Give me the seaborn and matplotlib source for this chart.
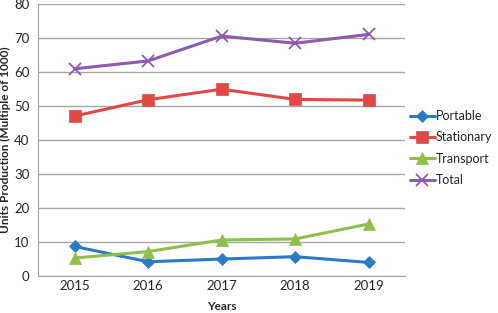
import pandas as pd
import numpy as np
import seaborn as sns
import matplotlib.pyplot as plt

years = ["2015", "2016", "2017", "2018", "2019"]
portable = [8.7, 4.2, 5.0, 5.7, 4.0]
stationary = [47.0, 51.8, 54.9, 51.9, 51.7]
transport = [5.3, 7.2, 10.6, 10.9, 15.3]
total = [60.9, 63.2, 70.5, 68.4, 71.0]
series = ["Portable", "Stationary", "Transport", "Total"]

df = pd.DataFrame({"Year": years * 4,
                   "Value": portable + stationary + transport + total,
                   "Series": [s for s in series for _ in years]})

colors = ["#2A7BC4", "#E04A44", "#8EC04B", "#8B5CAF"]
markers = {"Portable": "D", "Stationary": "s", "Transport": "^", "Total": "x"}
sizes = {"Portable": 6, "Stationary": 8, "Transport": 8, "Total": 8}

sns.set_style("white")
plt.rcParams["font.family"] = ["Lato", "DejaVu Sans"]

fig = plt.figure(figsize=(4.98, 3.13), dpi=100)
ax = fig.add_axes([0.076, 0.118, 0.738, 0.870])

for s, c in zip(series, colors):
    sub = df[df["Series"] == s]
    sns.lineplot(data=sub, x="Year", y="Value", ax=ax, color=c, linewidth=2.2,
                 marker=markers[s], markersize=sizes[s], markeredgecolor=c,
                 markeredgewidth=1.3 if s == "Total" else 0.5, label=s, sort=False)

ax.set_xlim(-0.5, 4.5)
ax.set_ylim(0, 80)
ax.set_yticks(range(0, 81, 10))
ax.grid(axis="y", color="#A6A6A6", linewidth=1)
ax.set_axisbelow(True)
for sp in ["top", "right"]:
    ax.spines[sp].set_visible(False)
ax.spines["left"].set_color("#A6A6A6")
ax.spines["bottom"].set_color("#A6A6A6")
ax.set_xticks(range(5))
ax.set_xticklabels(years)
ax.set_xticks(np.arange(-0.5, 4.6, 1), minor=True)
ax.tick_params(axis="x", which="major", length=0, labelsize=9.5, pad=3)
ax.tick_params(axis="x", which="minor", length=5, color="#A6A6A6", direction="out")
ax.tick_params(axis="y", length=0, labelsize=9.5, pad=6)
ax.set_xlabel("Years", fontsize=8.5, fontweight="bold", labelpad=6)
ax.set_ylabel("Units Production (Multiple of 1000)", fontsize=8.5, fontweight="bold", labelpad=2)

ax.legend(loc="center left", bbox_to_anchor=(1.005, 0.47), frameon=False,
          fontsize=9, handlelength=2.0, handletextpad=0.1, labelspacing=0.75,
          borderaxespad=0, borderpad=0.2)

fig.savefig("out.png", dpi=100)
